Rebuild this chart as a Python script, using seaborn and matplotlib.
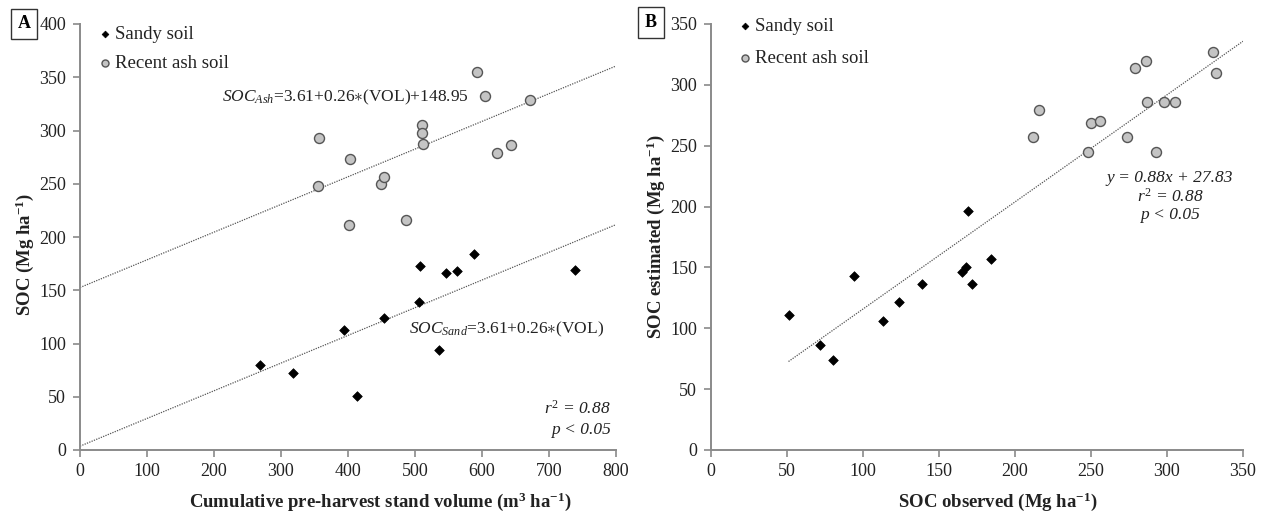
import numpy as np
import pandas as pd
import matplotlib
matplotlib.use("Agg")
import matplotlib.pyplot as plt
import seaborn as sns

# ---------------- data ----------------
# Panel A: stand volume vs SOC
sand_vol = [269, 318, 394, 413, 454, 507, 506, 547, 562, 588, 739, 536]
sand_soc = [80, 72, 113, 51, 124, 173, 139, 166, 168, 184, 169, 94]
ash_vol = [356, 355, 403, 402, 449, 454, 486, 511, 511, 512, 593, 604, 622, 644, 672]
ash_soc = [293, 248, 273, 211, 250, 256, 216, 305, 298, 287, 355, 332, 279, 286, 329]

# Panel B: observed vs estimated SOC
sand_obs = [51, 72, 80, 94, 113, 124, 139, 165, 168, 169, 172, 184]
sand_est = [111, 86, 74, 143, 106, 122, 136, 146, 150, 196, 136, 157]
ash_obs = [212, 216, 248, 250, 256, 274, 279, 286, 287, 293, 298, 305, 330, 332]
ash_est = [257, 279, 245, 269, 270, 257, 314, 320, 286, 245, 286, 286, 327, 310]

# regression coefficients
a_int, a_slope, ash_shift = 3.61, 0.26, 148.95
b_slope, b_int = 0.88, 27.83
vol_range = [0, 800]
obs_range = [51, 350]

labels_soil = ["Sandy soil", "Recent ash soil"]

# ---------------- style ----------------
sns.set_theme(style="ticks")
plt.rcParams["font.family"] = ["Liberation Serif", "DejaVu Serif"]
plt.rcParams["mathtext.fontset"] = "custom"
plt.rcParams["mathtext.rm"] = "Liberation Serif"
plt.rcParams["mathtext.it"] = "Liberation Serif:italic"
plt.rcParams["mathtext.bf"] = "Liberation Serif:bold"

W, H = 1268, 519
fig = plt.figure(figsize=(W / 100, H / 100), dpi=100)
axA = fig.add_axes([80 / W, 1 - 450 / H, (616 - 80) / W, (450 - 24) / H])
axB = fig.add_axes([711 / W, 1 - 450 / H, (1243 - 711) / W, (450 - 24) / H])

spine_col = "#8a8a8a"
txt_col = "#222222"
ash_face = "#c4c4c4"
ash_edge = "#555555"

dfA_s = pd.DataFrame({"x": sand_vol, "y": sand_soc})
dfA_a = pd.DataFrame({"x": ash_vol, "y": ash_soc})
dfB_s = pd.DataFrame({"x": sand_obs, "y": sand_est})
dfB_a = pd.DataFrame({"x": ash_obs, "y": ash_est})

def draw_points(ax, dfs, dfa):
    sns.scatterplot(data=dfs, x="x", y="y", ax=ax, marker="D", s=24,
                    color="black", edgecolor="black", linewidth=0.5,
                    label=labels_soil[0], zorder=3)
    sns.scatterplot(data=dfa, x="x", y="y", ax=ax, marker="o", s=52,
                    facecolor=ash_face, edgecolor=ash_edge, linewidth=1.0,
                    label=labels_soil[1], zorder=3)

draw_points(axA, dfA_s, dfA_a)
draw_points(axB, dfB_s, dfB_a)

# regression lines
vx = np.array(vol_range, dtype=float)
lineA = pd.DataFrame({"x": np.concatenate([vx, vx]),
                      "y": np.concatenate([a_int + a_slope * vx,
                                           a_int + a_slope * vx + ash_shift]),
                      "g": ["sand", "sand", "ash", "ash"]})
for g in ["sand", "ash"]:
    sns.lineplot(data=lineA[lineA.g == g], x="x", y="y", ax=axA, color="#555555",
                 linestyle=(0, (1, 1)), linewidth=0.9, legend=False, zorder=2)
ox = np.array(obs_range, dtype=float)
lineB = pd.DataFrame({"x": ox, "y": b_int + b_slope * ox})
sns.lineplot(data=lineB, x="x", y="y", ax=axB, color="#555555",
             linestyle=(0, (1, 1)), linewidth=0.9, legend=False, zorder=2)

def style_axis(ax, xlim, ylim, xticks, yticks, xlabel, ylabel, leg_px, leg_sp,
               xlab_x, ylab_y):
    ax.set_xlim(*xlim)
    ax.set_ylim(*ylim)
    ax.set_xticks(xticks)
    ax.set_yticks(yticks)
    sns.despine(ax=ax)
    for sp in ["left", "bottom"]:
        ax.spines[sp].set_color(spine_col)
        ax.spines[sp].set_linewidth(1.4)
    ax.tick_params(axis="both", direction="out", length=5, width=1.2,
                   color=spine_col, labelsize=13, labelcolor=txt_col)
    ax.tick_params(axis="y", pad=5)
    ax.tick_params(axis="x", pad=4)
    ax.set_xlabel(xlabel, fontsize=13.5, fontweight="bold", color=txt_col, labelpad=8)
    ax.set_ylabel(ylabel, fontsize=13.5, fontweight="bold", color=txt_col, labelpad=2)
    ax.xaxis.label.set_x(xlab_x)
    ax.yaxis.label.set_y(ylab_y)
    ax.grid(False)
    lx, ly = leg_px
    leg = ax.legend(loc="upper left",
                    bbox_to_anchor=(lx / W, 1 - ly / H),
                    bbox_transform=fig.transFigure, frameon=False,
                    fontsize=13.5, handlelength=0.5, handletextpad=0.3,
                    labelspacing=leg_sp, markerscale=0.7,
                    borderaxespad=0, borderpad=0)
    for t in leg.get_texts():
        t.set_color(txt_col)

style_axis(axA, (0, 800), (0, 400), range(0, 801, 100), range(0, 401, 50),
           r"Cumulative pre-harvest stand volume (m$^{\mathbf{3}}$ ha$^{\mathbf{-1}}$)",
           r"SOC (Mg ha$^{\mathbf{-1}}$)", (100, 26), 0.62, 0.56, 0.458)
style_axis(axB, (0, 350), (0, 350), range(0, 351, 50), range(0, 351, 50),
           r"SOC observed (Mg ha$^{\mathbf{-1}}$)",
           r"SOC estimated (Mg ha$^{\mathbf{-1}}$)", (740, 18), 0.78, 0.539, 0.5)

# annotations panel A
axA.text(212, 331, r"$SOC_{Ash}$=3.61+0.26$\ast$(VOL)+148.95", fontsize=12.5,
         color=txt_col, ha="left", va="center")
axA.text(491, 113.5, r"$SOC_{Sand}$=3.61+0.26$\ast$(VOL)", fontsize=12.5,
         color=txt_col, ha="left", va="center")
axA.text(792, 38.5, r"$r^2$ = 0.88", fontsize=12.5, style="italic", color=txt_col,
         ha="right", va="center")
axA.text(792, 18.8, "p < 0.05", fontsize=12.5, style="italic", color=txt_col,
         ha="right", va="center")

# annotations panel B
axB.text(302, 223.5, "y = 0.88x + 27.83", fontsize=12.5, style="italic",
         color=txt_col, ha="center", va="center")
axB.text(302, 208, r"$r^2$ = 0.88", fontsize=12.5, style="italic",
         color=txt_col, ha="center", va="center")
axB.text(302, 193, "p < 0.05", fontsize=12.5, style="italic",
         color=txt_col, ha="center", va="center")

# panel letters
for lab, px, py in [("A", 24, 24), ("B", 651, 22.5)]:
    fig.text(px / W, 1 - py / H, lab, fontsize=13, fontweight="bold", color="black",
             ha="center", va="center",
             bbox=dict(boxstyle="square,pad=0.38", facecolor="white",
                       edgecolor="#333333", linewidth=1.0))

fig.savefig("out.png", dpi=100)
